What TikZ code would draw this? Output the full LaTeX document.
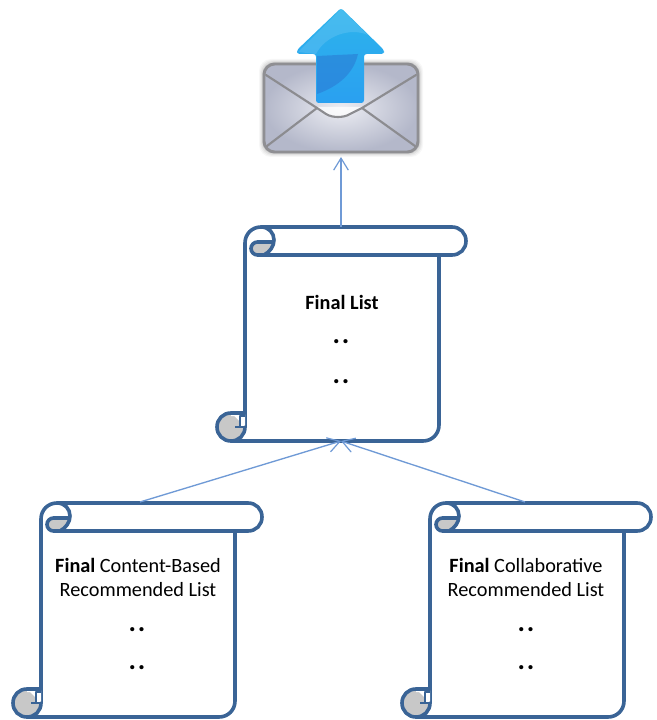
\documentclass[tikz,border=0pt]{standalone}
\usepackage{fontspec}
\setmainfont{Carlito}
\usetikzlibrary{arrows.meta,calc}
\definecolor{scrollblue}{HTML}{3A6496}
\definecolor{linkblue}{HTML}{6F9AD6}
\definecolor{curlgray}{HTML}{C8C8C8}
\definecolor{envedge}{HTML}{8F8F93}
\definecolor{envline}{HTML}{8C8C90}
\definecolor{envdark}{HTML}{B4B8CA}
\definecolor{envlight}{HTML}{ECEDF3}
\definecolor{arrowtop}{HTML}{2DB4EC}
\definecolor{arrowlow}{HTML}{2AA0F0}
\definecolor{arrowdeep}{HTML}{2A78D2}
\tikzset{
  outline/.style={draw=scrollblue,line width=2.7pt,line join=round,line cap=round},
  thinoutline/.style={draw=scrollblue,line width=1.8pt,line join=round},
  link/.style={draw=linkblue,line width=1pt,-{Straight Barb[length=9pt,width=11pt,line width=0.9pt]}},
  label/.style={font=\fontsize{15.2}{18}\selectfont,align=center,text=black,inner sep=0pt},
  dots/.style={font=\fontsize{21}{21}\selectfont\bfseries,text=black,inner sep=0pt},
  envstroke/.style={draw=envline,line width=1.6pt,line cap=round,line join=round}
}
\newcommand{\twodots}{.\kern1.2pt.}
% #1 = x offset, #2 = y offset (body top-left)
\newcommand{\scrollshape}[2]{%
  \begin{scope}[shift={(#1,#2)}]
    \fill[white] (0,14) -- (194,14) -- (194,214) -- (0,214) -- cycle;
    % upper curl gray
    \fill[curlgray] (12.5,15) .. controls (9,15) and (6,18) .. (6,21.5) .. controls (6,25) and (9,28) .. (12.5,28) -- (20,28) .. controls (24,25) and (27,20) .. (28,15) -- cycle;
    % outline with top roll
    \draw[outline] (0,200) -- (0,16) .. controls (0,7) and (7,0) .. (16,0) -- (207,0)
      .. controls (215,0) and (221,6) .. (221,14) .. controls (221,22) and (215,28) .. (207,28)
      -- (12.5,28) .. controls (9,28) and (6,25) .. (6,21.5) .. controls (6,18) and (9,15) .. (12.5,15) -- (28,15);
    \draw[outline] (16,0) .. controls (24,0) and (29,6) .. (29,13) .. controls (29,19) and (25,25) .. (19,28);
    % body right and bottom
    \draw[outline] (194,28) -- (194,198) .. controls (194,207) and (187,214) .. (178,214) -- (-14,214);
    % lower curl
    \fill[curlgray] (-14,186) .. controls (-22,186) and (-28,192) .. (-28,200) .. controls (-28,208) and (-22,214) .. (-14,214) .. controls (-6,214) and (0,208) .. (0,200) -- cycle;
    \fill[white] (-14,186) -- (0,186) -- (0,200) -- (-5,200) -- (-5,189) -- (-14,189) -- cycle;
    \draw[outline] (0,186) -- (-14,186) .. controls (-22,186) and (-28,192) .. (-28,200) .. controls (-28,208) and (-22,214) .. (-14,214);
    \draw[outline] (-14,214) .. controls (-6,214) and (0,208) .. (0,200);
    \draw[thinoutline] (0,189) -- (-5,189) -- (-5,200);
    \draw[thinoutline] (-10,200) -- (0,200);
  \end{scope}%
}
\begin{document}
\begin{tikzpicture}[x=0.75pt,y=-0.75pt]
\useasboundingbox (0,0) rectangle (656,720);
\fill[white] (0,0) rectangle (656,720);

% envelope soft shadow
\foreach \g/\o in {5/0.03,4/0.04,3/0.05,2/0.07,1/0.09}{
  \fill[black,opacity=\o,rounded corners=9pt] (264-\g,64-\g) rectangle (418+\g,152+\g);
}
% envelope
\path[inner color=envlight,outer color=envdark,rounded corners=8pt] (264,64) rectangle (418,152);
\draw[envedge,line width=2.2pt,rounded corners=8pt] (264,64) rectangle (418,152);
\fill[white,opacity=0.75] (316,107) -- (328,115) .. controls (332,118) and (344,118) .. (349,115) -- (362,107) -- cycle;
\draw[envstroke] (266,75) -- (317,108) -- (326,114) .. controls (332,118) and (344,118) .. (350,114) -- (362,108) -- (416,75);
\draw[envstroke] (267,146) -- (317,108);
\draw[envstroke] (415,146) -- (362,108);

% outgoing arrow
\path[top color=arrowtop,bottom color=arrowlow,rounded corners=2pt]
  (341,8) -- (384,50) -- (384,54) -- (364,54) -- (364,103) -- (316,103) -- (316,54) -- (297,54) -- (297,50) -- cycle;
\fill[white,opacity=0.12] (341,9) -- (368,35) .. controls (350,27) and (325,36) .. (316,54) -- (298,52) -- cycle;
\fill[arrowdeep,opacity=0.55] (317,94) -- (317,56) -- (358,54) .. controls (354,72) and (340,86) .. (317,94) -- cycle;

% scrolls
\scrollshape{245}{227}
\scrollshape{41}{503}
\scrollshape{430}{503}

% labels
\node[label] (mainlabel) at (342,302) {\textbf{Final List}};
\node[dots] (maindotsa) at (341,342) {\twodots};
\node[dots] (maindotsb) at (341,382) {\twodots};

\node[label] (leftlabel) at (138,577) {\textbf{Final} Content-Based\\Recommended List};
\node[dots] (leftdotsa) at (137,630) {\twodots};
\node[dots] (leftdotsb) at (137,668) {\twodots};

\node[label] (rightlabel) at (526,577) {\textbf{Final} Collaborative\\Recommended List};
\node[dots] (rightdotsa) at (526,630) {\twodots};
\node[dots] (rightdotsb) at (526,668) {\twodots};

% connector anchors
\coordinate (envbottom) at (341,157);
\coordinate (maintop) at (341,227);
\coordinate (mainbottom) at (341,441);
\coordinate (lefttop) at (140,502);
\coordinate (righttop) at (525,502);

\draw[link] (maintop) -- (envbottom);
\draw[link] (lefttop) -- (mainbottom);
\draw[link] (righttop) -- (mainbottom);
\end{tikzpicture}
\end{document}
